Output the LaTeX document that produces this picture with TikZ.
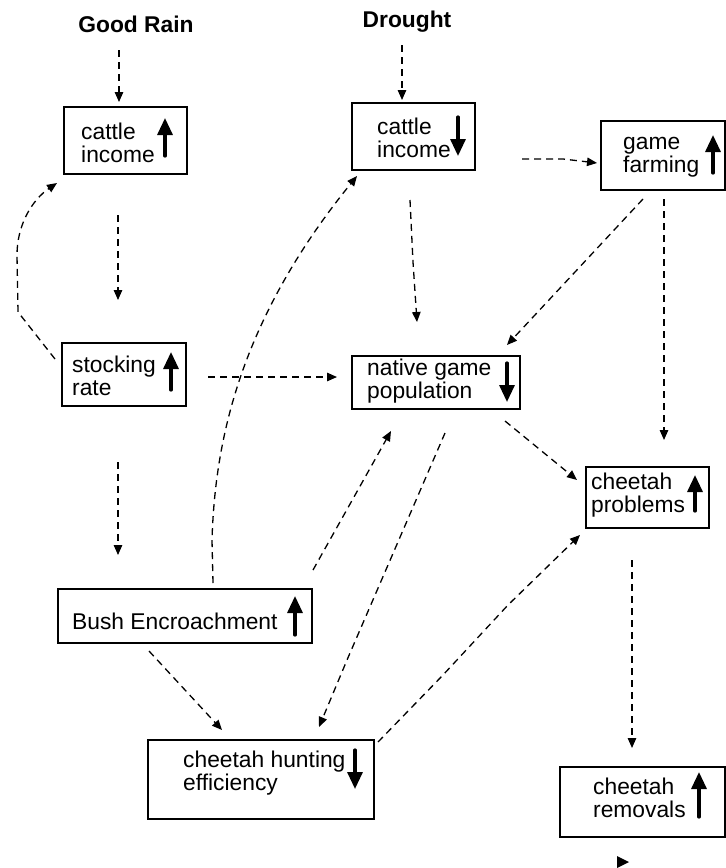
\documentclass[tikz,border=0pt]{standalone}
\usepackage{fontspec}
\setmainfont{Liberation Sans}
\usetikzlibrary{arrows.meta}
\begin{document}
\begin{tikzpicture}[x=1pt,y=-1pt,
  box/.style={draw, line width=1.3pt, inner sep=0pt},
  lbl/.style={anchor=west, align=left, inner sep=0pt, font=\fontsize{22.8pt}{23pt}\selectfont},
  ttl/.style={inner sep=0pt, font=\bfseries\fontsize{22.8pt}{23pt}\selectfont},
  conn/.style={line width=1.3pt, dash pattern=on 7pt off 5pt, -{Triangle[length=10pt,width=8.5pt]}},
  glyph/.style={line width=3.2pt, line cap=round, -{Triangle[length=17pt,width=15pt]}}]
\useasboundingbox (0,0) rectangle (726,868);

% titles
\node[ttl] (gr) at (136,24) {Good Rain};
\node[ttl] (dr) at (407,22) {Drought};

% boxes
\node[box, minimum width=123pt, minimum height=67pt] (ciL) at (125.5,140.5) {};
\node[box, minimum width=123pt, minimum height=67pt] (ciD) at (413.5,136.5) {};
\node[box, minimum width=124pt, minimum height=69pt] (gf) at (663,155.5) {};
\node[box, minimum width=124pt, minimum height=63pt] (sr) at (124,374.5) {};
\node[box, minimum width=168pt, minimum height=53pt] (ng) at (436,382.5) {};
\node[box, minimum width=123pt, minimum height=61pt] (cp) at (647.5,497.5) {};
\node[box, minimum width=254pt, minimum height=54pt] (be) at (185,616) {};
\node[box, minimum width=226pt, minimum height=79pt] (he) at (261,779.5) {};
\node[box, minimum width=165pt, minimum height=70pt] (cr) at (642.5,802) {};

% labels
\node[lbl] (ciLt) at (81,143) {cattle\\income};
\node[lbl] (ciDt) at (377,138) {cattle\\income};
\node[lbl] (gft) at (623,157) {game\\farming};
\node[lbl] (srt) at (72,376) {stocking\\rate};
\node[lbl] (ngt) at (367,381) {native game\\population};
\node[lbl] (cpt) at (591,495) {cheetah\\problems};
\node[lbl] (bet) at (72,621) {Bush Encroachment};
\node[lbl] (het) at (183,773) {cheetah hunting\\efficiency};
\node[lbl] (crt) at (593,798) {cheetah\\removals};

% trend glyphs
\draw[glyph] (165,156) -- (165,118);
\draw[glyph] (458,117) -- (458,156);
\draw[glyph] (713,173) -- (713,135);
\draw[glyph] (171,390) -- (171,352);
\draw[glyph] (507,363) -- (507,402);
\draw[glyph] (695,511) -- (695,475);
\draw[glyph] (295,635) -- (295,596);
\draw[glyph] (355,750) -- (355,789);
\draw[glyph] (699,817) -- (699,772);

% connector end points
\coordinate (a1) at (119,50);  \coordinate (a2) at (119,102);
\coordinate (b1) at (402,45);  \coordinate (b2) at (402,100);
\coordinate (c1) at (118,215); \coordinate (c2) at (118,300);
\coordinate (d1) at (55,359);  \coordinate (d2) at (57,183);
\coordinate (e1) at (208,377); \coordinate (e2) at (337,377);
\coordinate (f1) at (118,462); \coordinate (f2) at (118,555);
\coordinate (g1) at (213,583); \coordinate (g2) at (357,176);
\coordinate (h1) at (522,159); \coordinate (h2) at (597,163);
\coordinate (i1) at (410,200); \coordinate (i2) at (417,322);
\coordinate (j1) at (643,199); \coordinate (j2) at (507,345);
\coordinate (k1) at (664,199); \coordinate (k2) at (664,440);
\coordinate (l1) at (505,421); \coordinate (l2) at (577,480);
\coordinate (m1) at (445,433); \coordinate (m2) at (319,727);
\coordinate (n1) at (313,570); \coordinate (n2) at (391,431);
\coordinate (o1) at (149,651); \coordinate (o2) at (222,730);
\coordinate (p1) at (378,742); \coordinate (p2) at (580,535);
\coordinate (q1) at (632,560); \coordinate (q2) at (632,748);

% connectors
\draw[conn] (a1) -- (a2);
\draw[conn] (b1) -- (b2);
\draw[conn] (c1) -- (c2);
\draw[conn] (d1) -- (18,312) -- (17,255) .. controls (17,225) and (32,200) .. (d2);
\draw[conn] (e1) -- (e2);
\draw[conn] (f1) -- (f2);
\draw[conn] (g1) -- (212,540) .. controls (215,440) and (240,320) .. (g2);
\draw[conn] (h1) -- (563,159) -- (h2);
\draw[conn] (i1) -- (413,262) -- (i2);
\draw[conn] (j1) -- (j2);
\draw[conn] (k1) -- (k2);
\draw[conn] (l1) -- (l2);
\draw[conn] (m1) -- (347,660) -- (m2);
\draw[conn] (n1) -- (n2);
\draw[conn] (o1) -- (o2);
\draw[conn] (p1) -- (443,675) -- (508,605) -- (p2);
\draw[conn] (q1) -- (q2);

% stray arrow tip at bottom
\coordinate (r1) at (617,856);
\fill (r1) -- (629,862) -- (617,868) -- cycle;
\end{tikzpicture}
\end{document}
